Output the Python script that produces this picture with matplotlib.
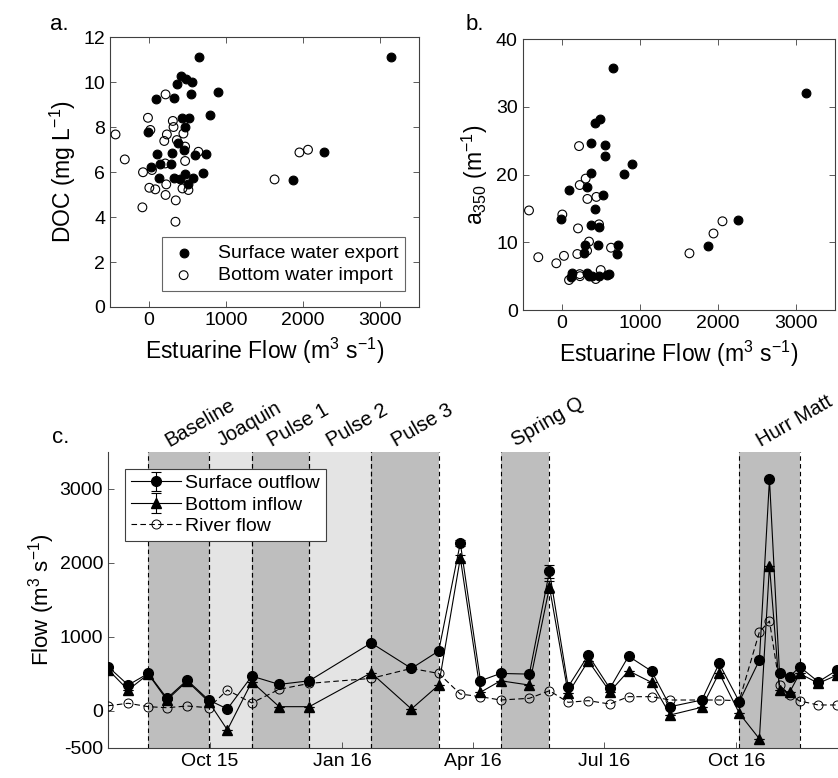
import matplotlib
matplotlib.use("Agg")
from matplotlib import pyplot as plt
from matplotlib import dates as mdates
from matplotlib import transforms
import numpy as np

plt.rcParams['font.family'] = ['Liberation Sans', 'DejaVu Sans']
plt.rcParams['axes.unicode_minus'] = False
plt.rcParams['mathtext.fontset'] = 'custom'
plt.rcParams['mathtext.rm'] = 'Liberation Sans'
plt.rcParams['mathtext.it'] = 'Liberation Sans:italic'

# ---- panel a: DOC vs estuarine flow ----
doc_surf_flow = [652, 3136, 420, 485, 562, 373, 897, 553, 94, 322, 433, 528, 794, 476,
                 -8, 382, 463, 107, 300, 601, 738, 26, 150, 287, 129, 331, 408, 472,
                 579, 704, 515, 1875, 2265]
doc_surf = [11.1, 11.12, 10.28, 10.12, 9.99, 9.9, 9.54, 9.47, 9.23, 9.27, 8.41, 8.41, 8.53, 8.0,
            7.76, 7.27, 6.96, 6.8, 6.83, 6.76, 6.8, 6.24, 6.34, 6.34, 5.72, 5.72, 5.67, 5.9,
            5.75, 5.94, 5.45, 5.64, 6.87]
doc_bot_flow = [219, -9, 313, 22, 322, -429, 236, 450, 202, 365, 472, -309, 472, 644,
                -73, 43, 215, 9, 86, 228, 438, 515, 219, 351, -81, 347, 1630, 1952, 2063]
doc_bot = [9.45, 8.41, 8.27, 7.87, 8.0, 7.67, 7.67, 7.71, 7.38, 7.42, 7.13, 6.56, 6.49, 6.9,
           5.99, 6.09, 6.38, 5.3, 5.23, 5.45, 5.27, 5.2, 4.98, 4.74, 4.43, 3.79, 5.67, 6.87, 6.99]

# ---- panel b: a350 vs estuarine flow ----
a350_surf_flow = [662, 427, 487, 376, 555, 555, 901, 795, 376, 94, 324, 530, 431, -5,
                  376, 482, 299, 465, 726, 286, 705, 136, 115, 328, 392, 478, 585, 606,
                  350, 3128, 1880, 2260]
a350_surf = [35.8, 27.6, 28.2, 24.6, 24.3, 22.7, 21.5, 20.1, 20.2, 17.7, 18.2, 17.0, 14.9, 13.5,
             12.6, 12.25, 9.6, 9.6, 9.6, 8.46, 8.27, 5.4, 4.9, 5.4, 5.0, 5.0, 5.17, 5.27,
             5.0, 32.1, 9.45, 13.3]
a350_bot_flow = [222, 307, 231, 444, 329, -419, 8, 209, 478, 350, 632, -300, 29, -69,
                 200, 231, 94, 500, 436, 234, 325, 1636, 1944, 2059]
a350_bot = [24.2, 19.4, 18.45, 16.7, 16.4, 14.7, 14.1, 12.05, 12.65, 10.1, 9.2, 7.8, 8.0, 6.9,
            8.27, 5.3, 4.43, 5.9, 4.58, 5.0, 8.75, 8.37, 11.3, 13.1]

# ---- panel c: flow time series ----
sample_dates = ['2015-07-22', '2015-08-05', '2015-08-19', '2015-09-01', '2015-09-15',
                '2015-09-30', '2015-10-13', '2015-10-30', '2015-11-18', '2015-12-09',
                '2016-01-21', '2016-02-18', '2016-03-08', '2016-03-23', '2016-04-06',
                '2016-04-20', '2016-05-10', '2016-05-24', '2016-06-06', '2016-06-20',
                '2016-07-05', '2016-07-18', '2016-08-03', '2016-08-16', '2016-09-07',
                '2016-09-19', '2016-10-03', '2016-10-17', '2016-10-24', '2016-10-31',
                '2016-11-07', '2016-11-14', '2016-11-27', '2016-12-10']
surface_outflow = [600, 350, 507, 171, 417, 148, 27, 471, 359, 408, 919, 575, 811, 2270,
                   408, 507, 498, 1888, 327, 754, 305, 740, 538, 58, 148, 642, 125, 686,
                   3132, 507, 462, 597, 394, 552]
surface_err = [0, 0, 0, 0, 0, 0, 0, 0, 0, 0, 0, 0, 0, 40,
               0, 0, 0, 90, 0, 0, 0, 0, 0, 0, 0, 0, 0, 0,
               0, 0, 0, 0, 0, 0]
bottom_inflow = [560, 283, 498, 148, 404, 125, -256, 394, 58, 58, 515, 27, 350, 2068,
                 252, 408, 350, 1673, 238, 677, 260, 542, 386, -54, 50, 515, -31, -377,
                 1965, 283, 252, 507, 373, 485]
bottom_err = [0, 0, 0, 0, 0, 0, 0, 0, 0, 0, 0, 0, 0, 40,
              0, 0, 0, 80, 0, 0, 0, 0, 0, 0, 0, 0, 0, 0,
              0, 0, 0, 0, 0, 0]
river_flow = [70, 104, 58, 44, 67, 44, 283, 108, 292, 373, 440, 575, 507, 229,
              193, 148, 171, 273, 117, 139, 94, 193, 193, 148, 148, 148, 139, 1067,
              1215, 350, 215, 135, 81, 81]

event_names = ['Baseline', 'Joaquin', 'Pulse 1', 'Pulse 2', 'Pulse 3', 'Spring Q', 'Hurr Matt']
event_start = ['2015-08-19', '2015-09-30', '2015-10-30', '2015-12-09', '2016-01-21',
               '2016-04-20', '2016-10-03']
event_end = ['2015-09-30', '2015-10-30', '2015-12-09', '2016-01-21', '2016-03-08',
             '2016-05-24', '2016-11-14']
event_shade = ['dark', 'light', 'dark', 'light', 'dark', 'dark', 'dark']

shade_colors = {'dark': '#bebebe', 'light': '#e4e4e4'}
spine_col = '#404040'
tick_fs = 14
label_fs = 16.5

fig = plt.figure(figsize=(8.38, 7.78), dpi=100)

ax_a = fig.add_axes([0.1313, 0.6054, 0.3687, 0.3470])
ax_b = fig.add_axes([0.6237, 0.6015, 0.3727, 0.3483])
ax_c = fig.add_axes([0.1289, 0.0386, 0.8854, 0.3805])


def style_scatter_axes(ax):
    ax.tick_params(direction='in', top=True, right=True, labelsize=tick_fs,
                   length=4, width=0.6, colors=spine_col, labelcolor='black')
    for s in ax.spines.values():
        s.set_color(spine_col)
        s.set_linewidth(0.8)
    ax.set_xlim(-500, 3500)
    ax.set_xticks([0, 1000, 2000, 3000])
    ax.set_xlabel('Estuarine Flow (m$^3$ s$^{-1}$)', fontsize=label_fs, labelpad=5)


ax_a.scatter(doc_surf_flow, doc_surf, s=40, c='black', edgecolors='black', linewidths=0.8,
             label='Surface water export', zorder=3)
ax_a.scatter(doc_bot_flow, doc_bot, s=40, facecolors='none', edgecolors='black', linewidths=0.8,
             label='Bottom water import', zorder=3)
style_scatter_axes(ax_a)
ax_a.set_ylim(0, 12)
ax_a.set_yticks(range(0, 13, 2))
ax_a.set_ylabel('DOC (mg L$^{-1}$)', fontsize=label_fs, labelpad=4)
leg_a = ax_a.legend(loc='lower right', bbox_to_anchor=(0.955, 0.059), borderaxespad=0,
                    fontsize=tick_fs, frameon=True, fancybox=False, edgecolor=spine_col,
                    handletextpad=1.0, borderpad=0.35, labelspacing=0.25, handlelength=1.5)
leg_a.get_frame().set_linewidth(0.8)
fig.text(0.060, 0.968, 'a.', fontsize=16, ha='left', va='center')

ax_b.scatter(a350_surf_flow, a350_surf, s=40, c='black', edgecolors='black', linewidths=0.8, zorder=3)
ax_b.scatter(a350_bot_flow, a350_bot, s=40, facecolors='none', edgecolors='black', linewidths=0.8,
             zorder=3)
style_scatter_axes(ax_b)
ax_b.set_ylim(0, 40)
ax_b.set_yticks(range(0, 41, 10))
ax_b.set_ylabel('a$_{350}$ (m$^{-1}$)', fontsize=label_fs, labelpad=4)
fig.text(0.556, 0.968, 'b.', fontsize=16, ha='left', va='center')

# panel c
dates = np.array(sample_dates, dtype='datetime64[D]')
starts = np.array(event_start, dtype='datetime64[D]')
ends = np.array(event_end, dtype='datetime64[D]')

for st, en, shade in zip(starts, ends, event_shade):
    ax_c.axvspan(st, en, color=shade_colors[shade], lw=0, zorder=0)
    for d in (st, en):
        ax_c.axvline(d, color='black', ls=(0, (4, 3)), lw=0.8, zorder=1)

trans = transforms.blended_transform_factory(ax_c.transData, ax_c.transAxes)
for name, st, en in zip(event_names, starts, ends):
    mid = st + (en - st) / 2 - np.timedelta64(6, 'D')
    ax_c.text(mid, 1.018, name, transform=trans, rotation=30, rotation_mode='anchor',
              ha='left', va='baseline', fontsize=14.5)

ax_c.errorbar(dates, surface_outflow, yerr=surface_err, color='black', lw=0.8, marker='o',
              ms=7, mfc='black', mec='black', capsize=3.5, elinewidth=0.8, capthick=0.8,
              label='Surface outflow', zorder=4)
ax_c.errorbar(dates, bottom_inflow, yerr=bottom_err, color='black', lw=0.8, marker='^',
              ms=6.5, mfc='black', mec='black', capsize=3.5, elinewidth=0.8, capthick=0.8,
              label='Bottom inflow', zorder=4)
ax_c.plot(dates, river_flow, color='black', lw=0.8, ls=(0, (5, 3)), marker='o', ms=6.5,
          mfc='none', mec='black', mew=0.7, label='River flow', zorder=3)

ax_c.set_xlim(np.datetime64('2015-07-22'), np.datetime64('2016-12-19'))
ax_c.set_ylim(-500, 3500)
ax_c.set_yticks([-500, 0, 1000, 2000, 3000])
ax_c.xaxis.set_major_locator(mdates.MonthLocator(bymonth=[1, 4, 7, 10]))
ax_c.xaxis.set_major_formatter(mdates.DateFormatter('%b %y'))
ax_c.tick_params(direction='in', labelsize=tick_fs, length=4, width=0.6,
                 colors=spine_col, labelcolor='black')
ax_c.spines['top'].set_visible(False)
ax_c.spines['right'].set_visible(False)
for s in ('left', 'bottom'):
    ax_c.spines[s].set_color(spine_col)
    ax_c.spines[s].set_linewidth(0.8)
ax_c.set_ylabel('Flow (m$^3$ s$^{-1}$)', fontsize=16, labelpad=2)

handles, labels = ax_c.get_legend_handles_labels()
order = [labels.index(n) for n in ('Surface outflow', 'Bottom inflow', 'River flow')]
leg_c = ax_c.legend([handles[i] for i in order], [labels[i] for i in order],
                    loc='upper left', bbox_to_anchor=(0.023, 0.943), borderaxespad=0,
                    fontsize=tick_fs, frameon=True, fancybox=False, edgecolor=spine_col,
                    framealpha=1, handlelength=2.6, handletextpad=0.2, borderpad=0.3,
                    labelspacing=0.2)
leg_c.get_frame().set_linewidth(0.8)
fig.text(0.062, 0.438, 'c.', fontsize=16, ha='left', va='center')

fig.savefig('out.png', dpi=100)
